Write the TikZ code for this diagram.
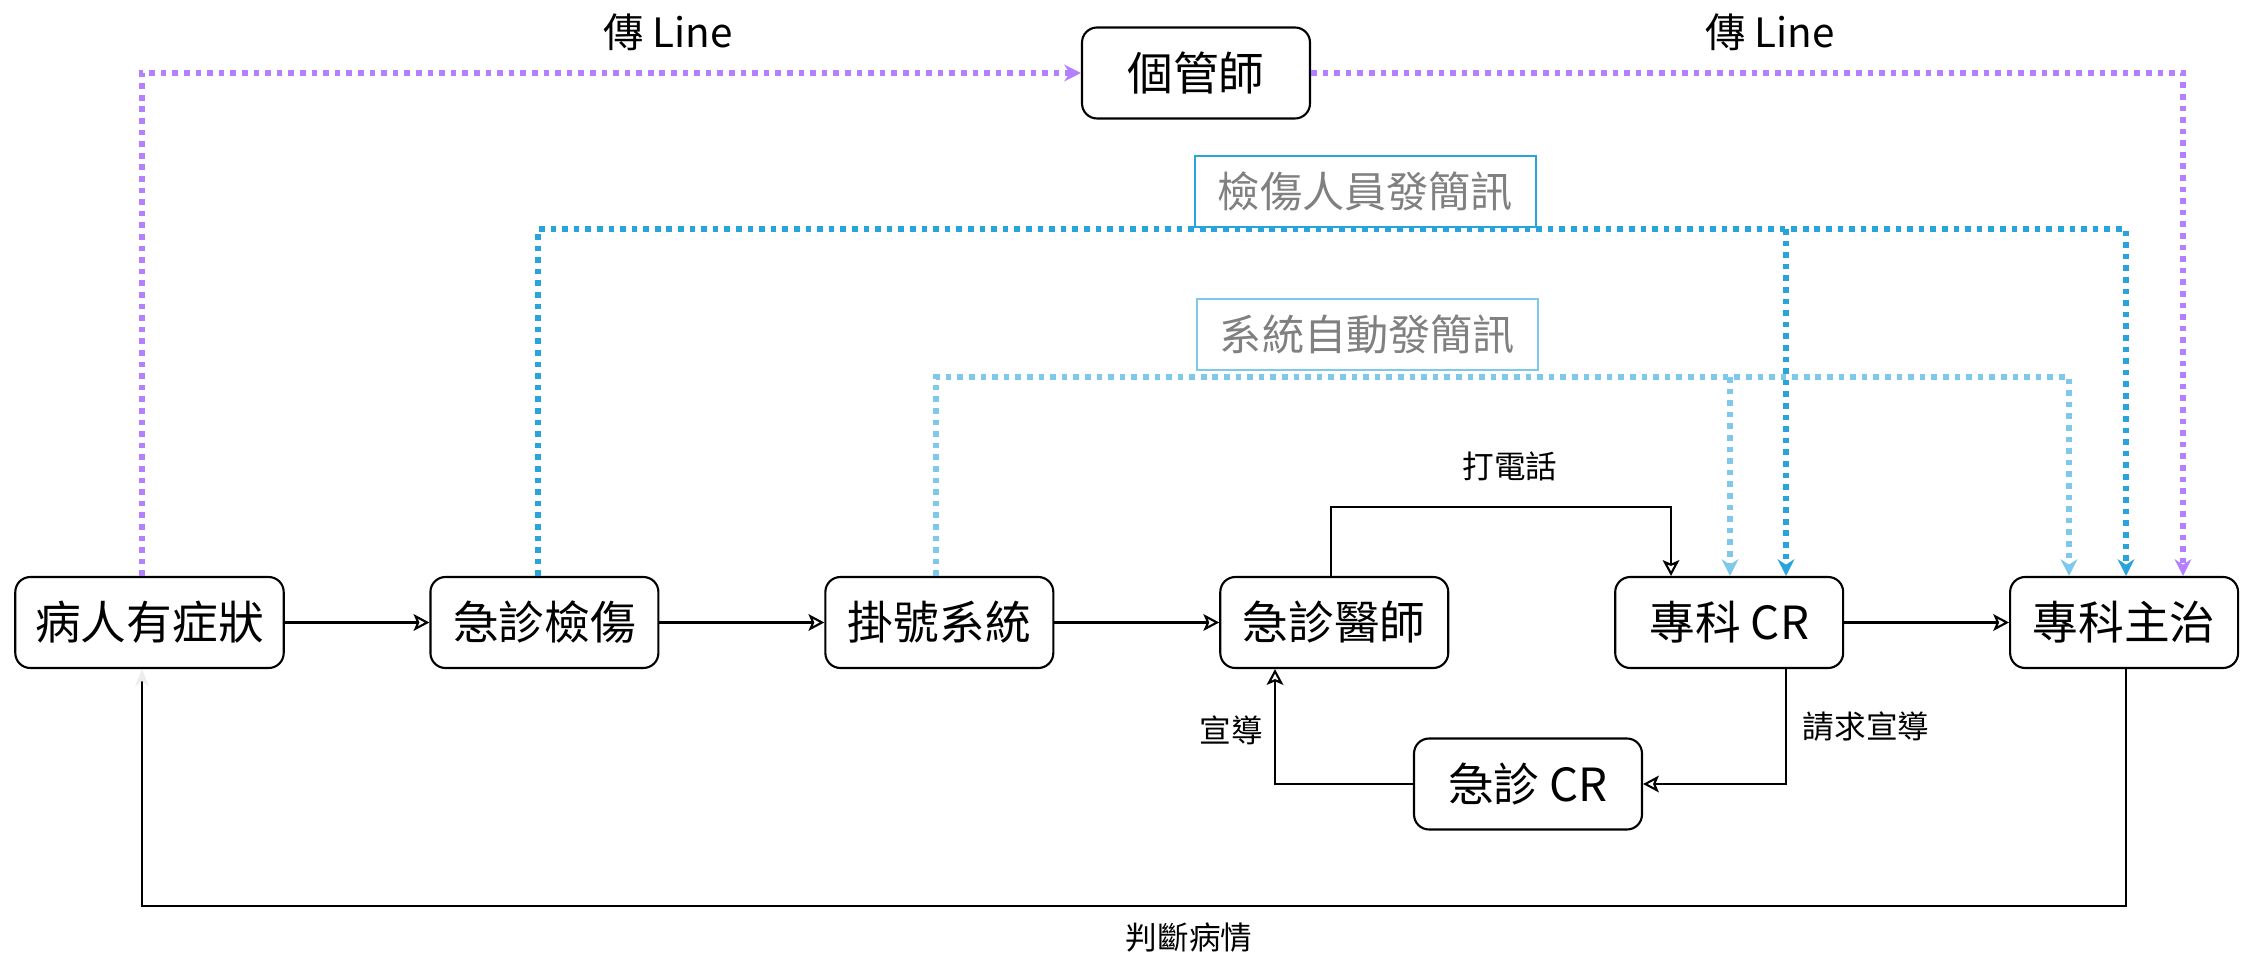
\documentclass[tikz,border=0pt]{standalone}
\usepackage{fontspec}
\setmainfont{Noto Sans CJK TC}
\usetikzlibrary{arrows.meta}

\definecolor{linepurple}{RGB}{179,128,255}
\definecolor{smsblue}{RGB}{41,163,219}
\definecolor{autoblue}{RGB}{126,200,235}
\definecolor{notegray}{RGB}{128,128,128}

\begin{document}
\begin{tikzpicture}[x=0.02cm,y=-0.02cm,node distance=7.9cm,
  stage/.style={draw,rounded corners=0.3cm,line width=1.2pt,minimum width=4.56cm,
    minimum height=1.82cm,inner xsep=0.4cm,font=\fontsize{26}{30}\selectfont},
  note/.style={draw,line width=1pt,minimum width=6.82cm,minimum height=1.42cm,
    text=notegray,font=\fontsize{24}{28}\selectfont},
  flow/.style={-{Stealth[open,length=9pt,width=9.5pt,inset=2pt]},line width=1.2pt},
  sms/.style={dash pattern=on 3.2pt off 3.4pt,line width=3pt,
    -{Stealth[length=9.5pt,width=9.5pt]}},
  lbl/.style={font=\fontsize{18}{21}\selectfont}]
\useasboundingbox (0,0) rectangle (2241,959);

\node[stage]           (patient)            at (149.5,622.5) {病人有症狀};
\node[stage]           (triage)   [right of=patient]  {急診檢傷};
\node[stage]           (register) [right of=triage]   {掛號系統};
\node[stage]           (erdoc)    [right of=register] {急診醫師};
\node[stage]           (spcr)     [right of=erdoc]    {專科 CR};
\node[stage]           (spvs)     [right of=spcr]     {專科主治};
\node[stage]           (casemgr)            at (1196,73)   {個管師};
\node[stage]           (ercr)               at (1528,784)  {急診 CR};

\node[note,draw=smsblue]  (smsnote)  at (1365.5,191.5) {檢傷人員發簡訊};
\node[note,draw=autoblue] (autonote) at (1367.5,334.5) {系統自動發簡訊};

\node[font=\fontsize{23}{26}\selectfont] (lineL) at (668,32)  {傳 Line};
\node[font=\fontsize{23}{26}\selectfont] (lineR) at (1770,32) {傳 Line};
\node[lbl] (call)     at (1510,466) {打電話};
\node[lbl] (promo)    at (1231,730) {宣導};
\node[lbl] (askpromo) at (1866,727) {請求宣導};
\node[lbl] (judge)    at (1189,938) {判斷病情};

% turning points
\coordinate (purpleA) at (142,73);
\coordinate (purpleB) at (2183,73);
\coordinate (blueA)   at (538,229);
\coordinate (blueB)   at (1786,229);
\coordinate (blueC)   at (2126,229);
\coordinate (autoA)   at (936,377);
\coordinate (autoB)   at (1730,377);
\coordinate (autoC)   at (2069,377);
\coordinate (callA)   at (1331,507);
\coordinate (callB)   at (1671,507);
\coordinate (promoA)  at (1275,783);
\coordinate (judgeA)  at (142,906);

% messages
\draw[sms,linepurple] (patient.north -| purpleA) |- (casemgr.west);
\draw[sms,linepurple] (casemgr.east) -- (purpleB) -- (spvs.north -| purpleB);
\draw[sms,smsblue]    (triage.north -| blueA) |- (blueC) -- (spvs.north -| blueC);
\draw[sms,smsblue]    (blueB) -- (spcr.north -| blueB);
\draw[sms,autoblue]   (register.north -| autoA) |- (autoC) -- (spvs.north -| autoC);
\draw[sms,autoblue]   (autoB) -- (spcr.north -| autoB);

% main flow
\path[flow] (patient)  edge (triage)
            (triage)   edge (register)
            (register) edge (erdoc)
            (spcr)     edge (spvs);
\draw[flow] (erdoc.north -| callA) |- (callB) -- (spcr.north -| callB);
\draw[flow] (spcr.south -| blueB) |- (ercr.east);
\draw[flow] (ercr.west) -| (erdoc.south -| promoA);
\draw[line width=1.2pt,-{Stealth[length=10pt,width=8pt,color=black!7]}]
  (spvs.south -| blueC) |- (judgeA) -- (patient.south -| judgeA);
\end{tikzpicture}
\end{document}
